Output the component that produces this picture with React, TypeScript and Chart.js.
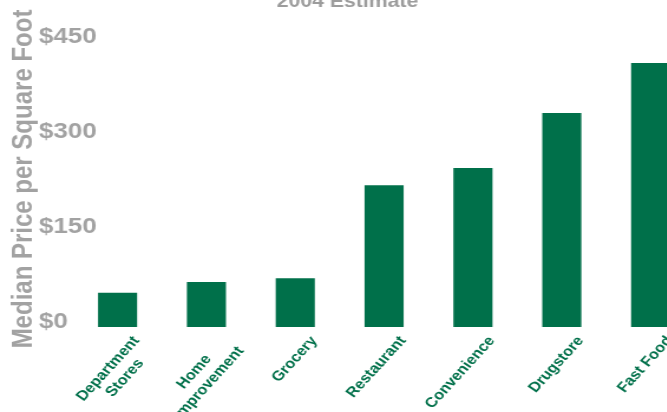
import React, { useEffect, useRef } from 'react';
import { Chart, registerables } from 'chart.js';

Chart.register(...registerables);

// ---- data ----
const categories: (string | string[])[] = [
  ['Department', 'Stores'],
  ['Home', 'Improvement'],
  'Grocery',
  'Restaurant',
  'Convenience',
  'Drugstore',
  'Fast Food',
];
const medianPrice = [54, 71, 77, 224, 251, 338, 417];
const yTickValues = [0, 150, 300, 450];
const chartTitle = '2004 Estimate';
const yAxisTitle = 'Median Price per Square Foot';

// ---- style ----
const FONT = "'Liberation Sans', Arial, Helvetica, sans-serif";
const GREEN = '#00704A';
const GREY = '#a2a2a2';
const SX = 1.18;
const CANVAS_W = 589;
const CANVAS_H = 432;

function centerLines(lines: string[], font: string): string[] {
  const c = document.createElement('canvas').getContext('2d');
  if (!c) return lines;
  c.font = font;
  const widths = lines.map((l) => c.measureText(l).width);
  const maxW = Math.max(...widths);
  const sp = c.measureText(' ').width;
  return lines.map((l, i) => {
    const n = Math.round((maxW - widths[i]) / 2 / sp);
    return l + ' '.repeat(Math.max(0, n));
  });
}

export default function App() {
  const ref = useRef<HTMLCanvasElement | null>(null);

  useEffect(() => {
    if (!ref.current) return;
    const xFont = `bold 14px ${FONT}`;
    const chart = new Chart(ref.current, {
      type: 'bar',
      data: {
        labels: categories,
        datasets: [
          {
            data: medianPrice,
            backgroundColor: GREEN,
            borderWidth: 0,
            barPercentage: 0.44,
            categoryPercentage: 1,
          },
        ],
      },
      options: {
        responsive: false,
        animation: false,
        devicePixelRatio: 1,
        layout: { padding: 0 },
        plugins: {
          legend: { display: false },
          tooltip: { enabled: false },
          title: {
            display: true,
            text: chartTitle,
            color: '#9c9c9c',
            font: { size: 18, weight: 'bold', family: FONT },
            padding: { top: 11, bottom: 18.4 },
          },
        },
        scales: {
          x: {
            grid: { display: false, drawTicks: false },
            border: { display: false },
            afterFit: (s: any) => {
              s.height = 85;
            },
            ticks: {
              autoSkip: false,
              minRotation: 52,
              maxRotation: 52,
              padding: 6,
              labelOffset: 16,
              color: GREEN,
              font: { size: 14, weight: 'bold', family: FONT },
              callback: (_v: any, i: number) => {
                const c = categories[i];
                return Array.isArray(c) ? centerLines(c, xFont) : c;
              },
            },
          },
          y: {
            min: 0,
            max: 467.4,
            grid: { display: false, drawTicks: false },
            border: { display: false },
            afterFit: (s: any) => {
              s.width = 62;
            },
            afterBuildTicks: (s: any) => {
              s.ticks = yTickValues.map((v) => ({ value: v }));
            },
            title: {
              display: true,
              text: yAxisTitle,
              color: GREY,
              font: { size: 24, weight: 'bold', family: FONT },
              padding: { top: 5.5, bottom: 0 },
            },
            ticks: {
              mirror: true,
              crossAlign: 'near',
              padding: -29,
              labelOffset: -5,
              color: GREY,
              font: { size: 22, weight: 'bold', family: FONT },
              callback: (v: any) => '$' + v,
            },
          },
        },
      },
    });
    return () => chart.destroy();
  }, []);

  return (
    <div
      style={{
        position: 'fixed',
        left: 0,
        top: 0,
        width: 667,
        height: 412,
        overflow: 'hidden',
        background: '#fff',
      }}
    >
      <canvas
        ref={ref}
        width={CANVAS_W}
        height={CANVAS_H}
        style={{
          position: 'absolute',
          left: 0,
          top: -20,
          transform: `scaleX(${SX})`,
          transformOrigin: '0 0',
        }}
      />
    </div>
  );
}
